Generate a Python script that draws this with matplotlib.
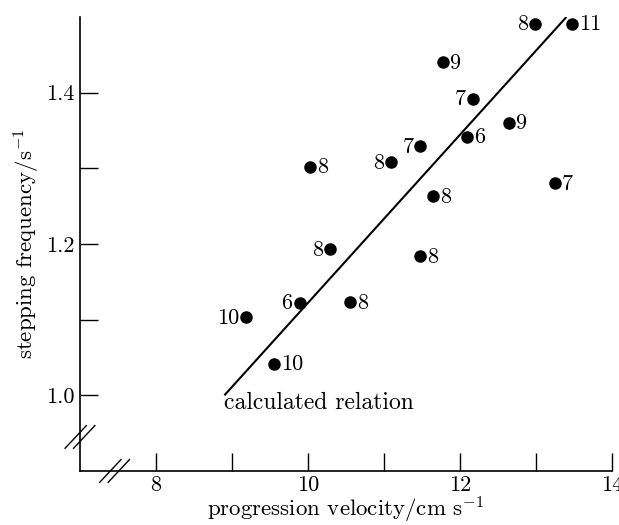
import matplotlib
matplotlib.use("Agg")
import matplotlib.pyplot as plt

plt.rcParams["font.family"] = "serif"
plt.rcParams["font.serif"] = ["cmr10"]
plt.rcParams["mathtext.fontset"] = "cm"
plt.rcParams["axes.formatter.use_mathtext"] = True

# progression velocity (cm/s), stepping frequency (1/s), number of animals, label side
velocity = [12.99, 13.47, 11.77, 12.17, 12.64, 12.09, 11.48, 11.09, 10.03,
            11.65, 13.25, 10.29, 11.48, 10.55, 9.89, 9.19, 9.55]
frequency = [1.491, 1.491, 1.440, 1.392, 1.360, 1.342, 1.329, 1.308, 1.302,
             1.263, 1.280, 1.193, 1.184, 1.123, 1.122, 1.103, 1.042]
counts = ["8", "11", "9", "7", "9", "6", "7", "8", "8",
          "8", "7", "8", "8", "8", "6", "10", "10"]
side = ["l", "r", "r", "l", "r", "r", "l", "l", "r",
        "r", "r", "l", "r", "r", "l", "l", "r"]

calc_x = [8.9, 13.4]
calc_y = [1.0, 1.5]

xticks = [8, 9, 10, 11, 12, 13, 14]
xlabels = ["8", "", "10", "", "12", "", "14"]
yticks = [1.0, 1.1, 1.2, 1.3, 1.4]
ylabels = ["1.0", "", "1.2", "", "1.4"]

fig = plt.figure(figsize=(6.19, 5.25), dpi=100)
ax = fig.add_axes([0.1292, 0.1029, 0.8595, 0.8647])

ax.plot(calc_x, calc_y, color="black", lw=1.5, solid_capstyle="butt")
ax.plot(velocity, frequency, "o", color="black", markersize=8, zorder=3)

for x, y, n, s in zip(velocity, frequency, counts, side):
    if s == "r":
        ax.annotate(n, (x, y), xytext=(5, -0.5), textcoords="offset points",
                    ha="left", va="center", fontsize=16)
    else:
        ax.annotate(n, (x, y), xytext=(-5, -0.5), textcoords="offset points",
                    ha="right", va="center", fontsize=16)

ax.text(calc_x[0], 0.99, "calculated relation", ha="left", va="center",
        fontsize=17)

ax.set_xlim(7, 14)
ax.set_ylim(0.9, 1.5)
ax.set_xticks(xticks)
ax.set_xticklabels(xlabels)
ax.set_yticks(yticks)
ax.set_yticklabels(ylabels)
ax.tick_params(direction="in", length=13, width=1, labelsize=16)
ax.tick_params(axis="x", pad=3)
ax.tick_params(axis="y", pad=4)

for sp in ["top", "right"]:
    ax.spines[sp].set_visible(False)
for sp in ["left", "bottom"]:
    ax.spines[sp].set_linewidth(1.2)

ax.set_xlabel(r"progression velocity/cm s$^{-1}$", fontsize=16.5, labelpad=0)
ax.set_ylabel(r"stepping frequency/s$^{-1}$", fontsize=16.5, labelpad=3)

# axis break marks
for dx in (-0.008, 0.008):
    ax.plot([-0.02 + dx, 0.02 + dx], [0.05, 0.1], transform=ax.transAxes,
            color="black", lw=1, clip_on=False)
    ax.plot([0.045 + dx, 0.085 + dx], [-0.025, 0.025], transform=ax.transAxes,
            color="black", lw=1, clip_on=False)

fig.savefig("out.png", dpi=100)
